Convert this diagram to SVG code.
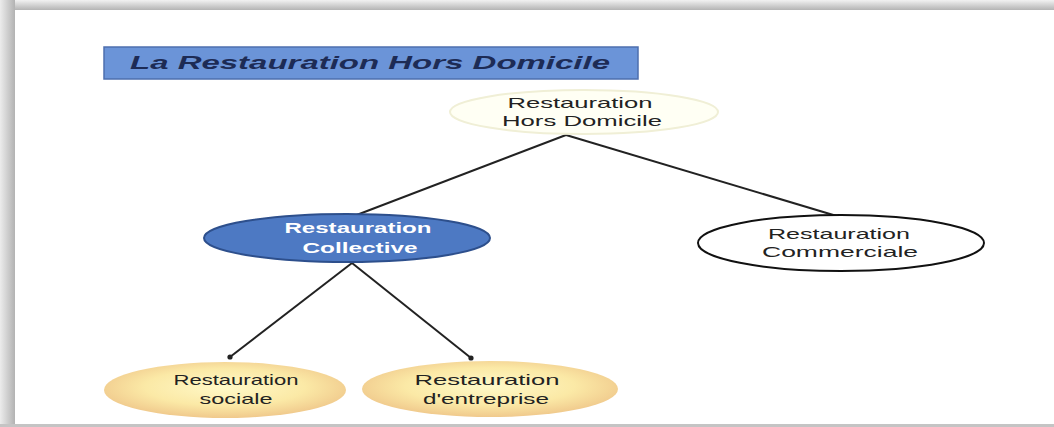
<svg xmlns="http://www.w3.org/2000/svg" width="1054" height="427" viewBox="0 0 1054 427">
<defs>
<style>
.lbl{font-family:"Liberation Sans",Arial,sans-serif;font-size:15px;fill:#222;text-anchor:middle}
.wlbl{font-family:"Liberation Sans",Arial,sans-serif;font-size:15px;font-weight:bold;fill:#ffffff;text-anchor:middle}
.conn{stroke:#222;stroke-width:2;fill:none}
</style>
<linearGradient id="topband" x1="0" y1="0" x2="0" y2="1">
<stop offset="0" stop-color="#f2f2f2"/><stop offset="1" stop-color="#b4b4b4"/>
</linearGradient>
<linearGradient id="leftband" x1="0" y1="0" x2="1" y2="0">
<stop offset="0" stop-color="#ececec"/><stop offset="1" stop-color="#b2b2b2"/>
</linearGradient>
<radialGradient id="yellow" cx="0.5" cy="0.45" r="0.55">
<stop offset="0" stop-color="#fff9c8"/><stop offset="0.6" stop-color="#fbe9a6"/><stop offset="1" stop-color="#f0c98c"/>
</radialGradient>
<marker id="dot" markerWidth="6" markerHeight="6" refX="3" refY="3" markerUnits="userSpaceOnUse">
<circle cx="3" cy="3" r="2.6" fill="#222"/>
</marker>
</defs>
<rect x="0" y="0" width="1054" height="427" fill="#ffffff"/>
<rect x="0" y="0" width="1054" height="10" fill="url(#topband)"/>
<rect x="0" y="0" width="15" height="427" fill="url(#leftband)"/>
<rect x="0" y="424" width="1054" height="3" fill="#c4c4c4"/>

<g id="title">
<rect x="104" y="47" width="534" height="32" fill="#6b94d8" stroke="#4d6fae" stroke-width="1.5"/>
<text x="370" y="69" font-family="'Liberation Sans',Arial,sans-serif" font-size="19" font-weight="bold" font-style="italic" fill="#1d2b55" text-anchor="middle" textLength="480" lengthAdjust="spacingAndGlyphs">La Restauration Hors Domicile</text>
</g>

<g id="connectors">
<line class="conn" x1="566" y1="135" x2="354" y2="216"/>
<line class="conn" x1="566" y1="135" x2="840" y2="217"/>
<line class="conn" x1="352" y1="263" x2="230" y2="357" marker-end="url(#dot)"/>
<line class="conn" x1="352" y1="263" x2="471" y2="358" marker-end="url(#dot)"/>
</g>

<g id="node-rhd">
<ellipse cx="584" cy="112" rx="134" ry="22" fill="#fffff4" stroke="#f0efd6" stroke-width="2"/>
<text class="lbl" x="580" y="108" textLength="145" lengthAdjust="spacingAndGlyphs">Restauration</text>
<text class="lbl" x="582" y="126" textLength="160" lengthAdjust="spacingAndGlyphs">Hors Domicile</text>
</g>

<g id="node-collective">
<ellipse cx="347" cy="238" rx="143" ry="24" fill="#4d79c3" stroke="#2d4f8c" stroke-width="2"/>
<text class="wlbl" x="358" y="233" textLength="147" lengthAdjust="spacingAndGlyphs">Restauration</text>
<text class="wlbl" x="360" y="253" textLength="115" lengthAdjust="spacingAndGlyphs">Collective</text>
</g>

<g id="node-commerciale">
<ellipse cx="841" cy="243" rx="143" ry="28" fill="#ffffff" stroke="#111" stroke-width="2"/>
<text class="lbl" x="839" y="239" textLength="142" lengthAdjust="spacingAndGlyphs">Restauration</text>
<text class="lbl" x="840" y="257" textLength="156" lengthAdjust="spacingAndGlyphs">Commerciale</text>
</g>

<g id="node-sociale">
<ellipse cx="225" cy="390" rx="121" ry="28" fill="url(#yellow)"/>
<text class="lbl" x="236" y="385" textLength="125" lengthAdjust="spacingAndGlyphs">Restauration</text>
<text class="lbl" x="236" y="404" textLength="73" lengthAdjust="spacingAndGlyphs">sociale</text>
</g>

<g id="node-entreprise">
<ellipse cx="490" cy="389" rx="128" ry="28" fill="url(#yellow)"/>
<text class="lbl" x="487" y="385" textLength="145" lengthAdjust="spacingAndGlyphs">Restauration</text>
<text class="lbl" x="486" y="404" textLength="126" lengthAdjust="spacingAndGlyphs">d'entreprise</text>
</g>
</svg>
